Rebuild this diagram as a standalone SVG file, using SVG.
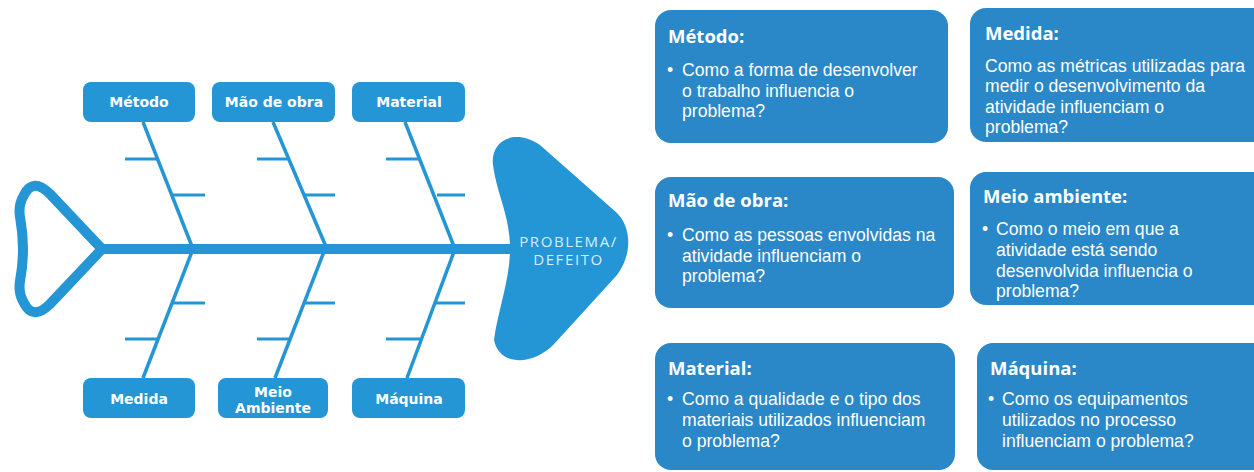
<svg xmlns="http://www.w3.org/2000/svg" width="1254" height="472" viewBox="0 0 1254 472">
<style>
.fb{fill:#2495d5}
.bone{stroke:#2495d5;stroke-width:3.5;fill:none;stroke-linecap:butt}
.rib{stroke:#2495d5;stroke-width:3;fill:none}
.lbl{font-family:"DejaVu Sans",sans-serif;font-weight:bold;font-size:14px;fill:#ffffff;text-anchor:middle}
.card{fill:#2a88c8}
.ttl{font-family:"Open Sans","Noto Sans",sans-serif;font-weight:bold;font-size:18.5px;fill:#ffffff}
.body{font-family:"Liberation Sans",Arial,sans-serif;font-size:17.6px;fill:#ffffff}
.head{font-family:"Open Sans","Noto Sans",sans-serif;font-size:15px;fill:#d9eef9;letter-spacing:1.6px;text-anchor:middle}
</style>
<rect width="1254" height="472" fill="#ffffff"/>

<g id="connectors">
  <line x1="100" y1="249" x2="512" y2="249" stroke="#2495d5" stroke-width="10"/>
  <line class="bone" x1="143" y1="122" x2="193" y2="249"/>
  <line class="bone" x1="273" y1="122" x2="327" y2="249"/>
  <line class="bone" x1="405" y1="122" x2="455" y2="249"/>
  <line class="bone" x1="193" y1="249" x2="143" y2="378"/>
  <line class="bone" x1="325" y1="249" x2="275" y2="378"/>
  <line class="bone" x1="455" y1="249" x2="407" y2="378"/>
  <line class="rib" x1="125" y1="159" x2="158" y2="159"/>
  <line class="rib" x1="172" y1="195" x2="205" y2="195"/>
  <line class="rib" x1="257" y1="159" x2="290" y2="159"/>
  <line class="rib" x1="305" y1="195" x2="335" y2="195"/>
  <line class="rib" x1="386" y1="159" x2="419" y2="159"/>
  <line class="rib" x1="437" y1="195" x2="465" y2="195"/>
  <line class="rib" x1="172" y1="303" x2="205" y2="303"/>
  <line class="rib" x1="125" y1="339" x2="158" y2="339"/>
  <line class="rib" x1="304" y1="303" x2="335" y2="303"/>
  <line class="rib" x1="257" y1="339" x2="290" y2="339"/>
  <line class="rib" x1="435" y1="303" x2="465" y2="303"/>
  <line class="rib" x1="386" y1="339" x2="421" y2="339"/>
</g>

<g id="tail">
  <path d="M 102,249 L 50,194 Q 33,177 24,195 Q 18,205 20,217 Q 26,249 20,281 Q 18,293 24,303 Q 33,321 50,304 Z" fill="none" stroke="#2495d5" stroke-width="10" stroke-linejoin="round"/>
</g>

<g id="head">
  <path class="fb" d="M 493,165 C 490,140 515,128 540,145 L 617,213 C 632,228 632,255 617,275 L 555,343 C 535,365 500,368 494,340 C 498,310 510,280 510,249 C 510,215 497,195 493,165 Z"/>
  <text class="head" x="568.5" y="247">PROBLEMA/</text>
  <text class="head" x="568.5" y="265">DEFEITO</text>
</g>

<g id="lbl-metodo">
  <rect class="fb" x="83" y="82" width="112" height="40" rx="8"/>
  <text class="lbl" x="139" y="107">Método</text>
</g>
<g id="lbl-maodeobra">
  <rect class="fb" x="212" y="82" width="123" height="40" rx="8"/>
  <text class="lbl" x="274" y="107">Mão de obra</text>
</g>
<g id="lbl-material">
  <rect class="fb" x="352" y="82" width="113" height="40" rx="8"/>
  <text class="lbl" x="409" y="107">Material</text>
</g>
<g id="lbl-medida">
  <rect class="fb" x="83" y="378" width="112" height="40" rx="8"/>
  <text class="lbl" x="139" y="404">Medida</text>
</g>
<g id="lbl-meioambiente">
  <rect class="fb" x="218" y="378" width="110" height="40" rx="8"/>
  <text class="lbl" x="273" y="396.5">Meio</text>
  <text class="lbl" x="273" y="412.5">Ambiente</text>
</g>
<g id="lbl-maquina">
  <rect class="fb" x="352" y="378" width="113" height="40" rx="8"/>
  <text class="lbl" x="409" y="404">Máquina</text>
</g>

<g id="card-metodo">
  <rect class="card" x="655" y="10" width="293" height="133" rx="16"/>
  <text class="ttl" x="668" y="43">Método:</text>
  <text class="body" x="667" y="76">•</text>
  <text class="body" x="682" y="76">Como a forma de desenvolver</text>
  <text class="body" x="682" y="97">o trabalho influencia o</text>
  <text class="body" x="682" y="117">problema?</text>
</g>
<g id="card-medida">
  <rect class="card" x="970" y="8" width="300" height="134" rx="16"/>
  <text class="ttl" x="985" y="40">Medida:</text>
  <text class="body" x="985" y="72">Como as métricas utilizadas para</text>
  <text class="body" x="985" y="92">medir o desenvolvimento da</text>
  <text class="body" x="985" y="113">atividade influenciam o</text>
  <text class="body" x="985" y="133">problema?</text>
</g>
<g id="card-maodeobra">
  <rect class="card" x="655" y="177" width="299" height="131" rx="16"/>
  <text class="ttl" x="668" y="207">Mão de obra:</text>
  <text class="body" x="667" y="241">•</text>
  <text class="body" x="682" y="241">Como as pessoas envolvidas na</text>
  <text class="body" x="682" y="262">atividade influenciam o</text>
  <text class="body" x="682" y="282">problema?</text>
</g>
<g id="card-meioambiente">
  <rect class="card" x="970" y="172" width="300" height="133" rx="16"/>
  <text class="ttl" x="983" y="203">Meio ambiente:</text>
  <text class="body" x="982" y="235">•</text>
  <text class="body" x="996" y="235">Como o meio em que a</text>
  <text class="body" x="996" y="256">atividade está sendo</text>
  <text class="body" x="996" y="277">desenvolvida influencia o</text>
  <text class="body" x="996" y="297">problema?</text>
</g>
<g id="card-material">
  <rect class="card" x="655" y="343" width="300" height="127" rx="16"/>
  <text class="ttl" x="668" y="375">Material:</text>
  <text class="body" x="667" y="405">•</text>
  <text class="body" x="682" y="405">Como a qualidade e o tipo dos</text>
  <text class="body" x="682" y="426">materiais utilizados influenciam</text>
  <text class="body" x="682" y="447">o problema?</text>
</g>
<g id="card-maquina">
  <rect class="card" x="977" y="343" width="300" height="127" rx="16"/>
  <text class="ttl" x="990" y="375">Máquina:</text>
  <text class="body" x="988" y="405">•</text>
  <text class="body" x="1002" y="405">Como os equipamentos</text>
  <text class="body" x="1002" y="426">utilizados no processo</text>
  <text class="body" x="1002" y="447">influenciam o problema?</text>
</g>
</svg>
